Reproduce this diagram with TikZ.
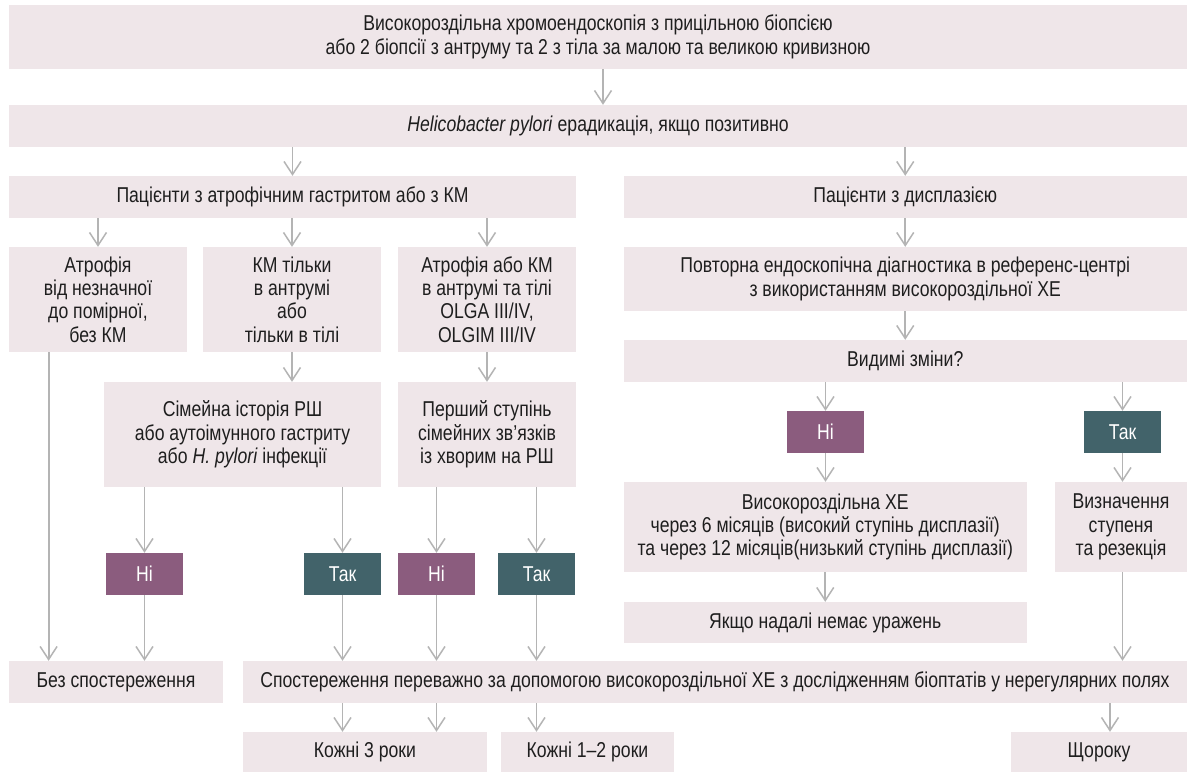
\documentclass[tikz,border=0pt]{standalone}
\usepackage{fontspec}
\setmainfont{Liberation Sans}[FakeStretch=0.82]
\usetikzlibrary{arrows.meta}
\definecolor{boxc}{RGB}{239,230,233}
\definecolor{noc}{RGB}{139,92,126}
\definecolor{yesc}{RGB}{66,99,106}
\definecolor{arrc}{RGB}{180,180,180}
\definecolor{txtc}{RGB}{30,30,30}
\tikzset{
  box/.style={fill=boxc, inner sep=0pt, align=center, text=txtc,
    font=\fontsize{21.5}{23.4}\selectfont},
  nobox/.style={box, fill=noc, text=white},
  yesbox/.style={box, fill=yesc, text=white},
  arr/.style={draw=arrc, line width=1.8pt, -{Straight Barb[length=13pt,width=17pt,line width=1.5pt]}}
}
\begin{document}
\begin{tikzpicture}[x=1pt,y=-1pt]
\useasboundingbox (0,0) rectangle (1187,772);
\fill[white] (0,0) rectangle (1187,772);
% top
\node[box, minimum width=1178pt, minimum height=64pt] (b1) at (598,37)
  {Високороздільна хромоендоскопія з прицільною біопсією\\або 2 біопсії з антруму та 2 з тіла за малою та великою кривизною};
\node[box, minimum width=1178pt, minimum height=42pt] (b2) at (598,126)
  {\textit{Helicobacter pylori} ерадикація, якщо позитивно};
\node[box, minimum width=567pt, minimum height=42pt] (b3) at (292.5,197)
  {Пацієнти з атрофічним гастритом або з КМ};
\node[box, minimum width=563.5pt, minimum height=42pt] (b4) at (905.25,197)
  {Пацієнти з дисплазією};
% left branch
\node[box, minimum width=178pt, minimum height=105pt] (a1) at (98,299.5)
  {Атрофія\\від незначної\\до помірної,\\без КМ};
\node[box, minimum width=178pt, minimum height=105pt] (a2) at (292,299.5)
  {КМ тільки\\в антрумі\\або\\тільки в тілі};
\node[box, minimum width=178pt, minimum height=105pt] (a3) at (487,299.5)
  {Атрофія або КМ\\в антрумі та тілі\\OLGA III/IV,\\OLGIM III/IV};
\node[box, minimum width=277pt, minimum height=105pt] (s1) at (242.5,434.5)
  {Сімейна історія РШ\\або аутоімунного гастриту\\або \textit{H. pylori} інфекції};
\node[box, minimum width=178pt, minimum height=105pt] (s2) at (487,434.5)
  {Перший ступінь\\сімейних зв’язків\\із хворим на РШ};
\node[nobox, minimum width=77pt, minimum height=42pt] (n1) at (144.5,574) {Ні};
\node[yesbox, minimum width=77pt, minimum height=42pt] (t1) at (342.5,574) {Так};
\node[nobox, minimum width=77pt, minimum height=42pt] (n2) at (436.5,574) {Ні};
\node[yesbox, minimum width=77pt, minimum height=42pt] (t2) at (536.5,574) {Так};
\node[box, minimum width=214pt, minimum height=42pt] (bez) at (116,682) {Без спостереження};
\node[box, minimum width=944pt, minimum height=42pt] (sp) at (715,682)
  {Спостереження переважно за допомогою високороздільної ХЕ з дослідженням біоптатів у нерегулярних полях};
\node[box, minimum width=244pt, minimum height=40pt] (k3) at (365,752) {Кожні 3 роки};
\node[box, minimum width=173pt, minimum height=40pt] (k12) at (587.5,752) {Кожні 1–2 роки};
\node[box, minimum width=176pt, minimum height=40pt] (sh) at (1099,752) {Щороку};
% right branch
\node[box, minimum width=563.5pt, minimum height=64pt] (p) at (905.25,279)
  {Повторна ендоскопічна діагностика в референс-центрі\\з використанням високороздільної ХЕ};
\node[box, minimum width=563.5pt, minimum height=42pt] (v) at (905.25,361) {Видимі зміни?};
\node[nobox, minimum width=77pt, minimum height=42pt] (n3) at (825.5,432) {Ні};
\node[yesbox, minimum width=77pt, minimum height=42pt] (t3) at (1122.5,432) {Так};
\node[box, minimum width=403.5pt, minimum height=90pt] (hx) at (825.25,527)
  {Високороздільна ХЕ\\через 6 місяців (високий ступінь дисплазії)\\та через 12 місяців(низький ступінь дисплазії)};
\node[box, minimum width=132pt, minimum height=90pt] (vz) at (1121,527)
  {Визначення\\ступеня\\та резекція};
\node[box, minimum width=403.5pt, minimum height=41pt] (ya) at (825.25,622.5) {Якщо надалі немає уражень};
% helper x positions
\coordinate (x1) at (603,0);
\coordinate (x2) at (48.6,0);
\coordinate (x3) at (1110,0);
% connectors
\draw[arr] (b1.south -| x1) -- (b2.north -| x1);
\draw[arr] (b2.south -| b3) -- (b3.north);
\draw[arr] (b2.south -| b4) -- (b4.north);
\draw[arr] (b3.south -| a1) -- (a1.north);
\draw[arr] (b3.south -| a2) -- (a2.north);
\draw[arr] (b3.south -| a3) -- (a3.north);
\draw[arr] (a1.south -| x2) -- (bez.north -| x2);
\draw[arr] (a2.south) -- (s1.north -| a2);
\draw[arr] (a3.south) -- (s2.north);
\draw[arr] (s1.south -| n1) -- (n1.north);
\draw[arr] (s1.south -| t1) -- (t1.north);
\draw[arr] (s2.south -| n2) -- (n2.north);
\draw[arr] (s2.south -| t2) -- (t2.north);
\draw[arr] (n1.south) -- (bez.north -| n1);
\draw[arr] (t1.south) -- (sp.north -| t1);
\draw[arr] (n2.south) -- (sp.north -| n2);
\draw[arr] (t2.south) -- (sp.north -| t2);
\draw[arr] (sp.south -| t1) -- (k3.north -| t1);
\draw[arr] (sp.south -| n2) -- (k3.north -| n2);
\draw[arr] (sp.south -| t2) -- (k12.north -| t2);
\draw[arr] (sp.south -| x3) -- (sh.north -| x3);
\draw[arr] (b4.south) -- (p.north);
\draw[arr] (p.south) -- (v.north);
\draw[arr] (v.south -| n3) -- (n3.north);
\draw[arr] (v.south -| t3) -- (t3.north);
\draw[arr] (n3.south) -- (hx.north -| n3);
\draw[arr] (hx.south) -- (ya.north);
\draw[arr] (t3.south) -- (vz.north -| t3);
\draw[arr] (vz.south -| t3) -- (sp.north -| t3);
\end{tikzpicture}
\end{document}
